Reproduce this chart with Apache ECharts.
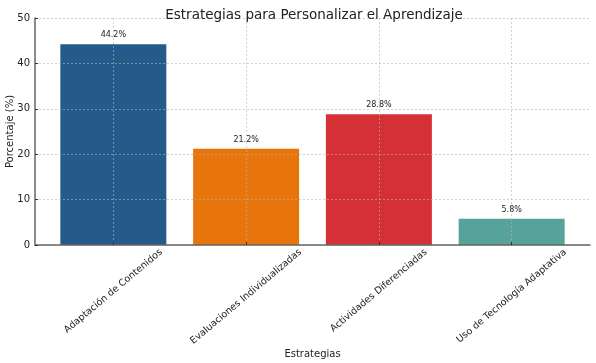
<!DOCTYPE html>
<html>
<head>
<meta charset="utf-8">
<script src="https://cdn.jsdelivr.net/npm/echarts@6/dist/echarts.min.js"></script>
<style>
  html, body { margin: 0; padding: 0; background: #fff; }
  #chart { width: 596px; height: 363px; }
</style>
</head>
<body>
<div id="chart"></div>
<script>
  // categorias y valores
  var categories = ['Adaptación de Contenidos', 'Evaluaciones Individualizadas', 'Actividades Diferenciadas', 'Uso de Tecnología Adaptativa'];
  var values = [44.2, 21.2, 28.8, 5.8];
  var barColors = ['#265a8a', '#e8740c', '#d43035', '#57a299'];
  var yTicks = [0, 10, 20, 30, 40, 50];

  var positions = categories.map(function (c, i) { return i; });

  // etiquetas rotadas centradas en la marca (como matplotlib ha='center')
  var xMin = -0.59, xMax = 3.59;
  var gridLeft = 35, gridRight = 6;
  var labelFont = 9.5, labelRot = 40;
  var pxPerUnit = (596 - gridLeft - gridRight) / (xMax - xMin);
  var ctx = document.createElement('canvas').getContext('2d');
  ctx.font = labelFont + 'px "DejaVu Sans"';
  var labelPos = categories.map(function (c, i) {
    return i + ctx.measureText(c).width * Math.cos(labelRot * Math.PI / 180) / 2 / pxPerUnit;
  });
  function labelIndex(v) {
    var best = 0;
    labelPos.forEach(function (p, i) { if (Math.abs(p - v) < Math.abs(labelPos[best] - v)) best = i; });
    return best;
  }

  var chart = echarts.init(document.getElementById('chart'));

  var gridLine = { show: true, lineStyle: { color: 'rgba(180,180,180,0.6)', type: [2, 2], width: 1 } };

  chart.setOption({
    animation: false,
    title: {
      text: 'Estrategias para Personalizar el Aprendizaje',
      left: 309, top: 3, textAlign: 'center',
      textStyle: { fontFamily: 'DejaVu Sans', fontSize: 13.5, fontWeight: 'normal', color: '#222' }
    },
    grid: { left: gridLeft, right: gridRight, top: 18, bottom: 118, outerBoundsMode: 'none', containLabel: false },
    xAxis: {
      type: 'value',
      min: xMin, max: xMax,
      z: 3,
      name: 'Estrategias',
      nameLocation: 'middle',
      nameGap: 104,
      nameMoveOverlap: false,
      nameTextStyle: { fontFamily: 'DejaVu Sans', fontSize: 10, color: '#222' },
      axisLine: { show: true, onZero: false, lineStyle: { color: '#666', width: 1.5 } },
      axisTick: { show: true, inside: true, length: 3, customValues: positions, lineStyle: { color: '#333' } },
      axisLabel: {
        customValues: labelPos,
        rotate: labelRot,
        margin: 6,
        hideOverlap: false,
        fontFamily: 'DejaVu Sans', fontSize: labelFont, color: '#222',
        formatter: function (v) { return categories[labelIndex(v)]; }
      },
      splitLine: gridLine
    },
    yAxis: {
      type: 'value',
      min: yTicks[0], max: yTicks[yTicks.length - 1], interval: 10,
      z: 3,
      name: 'Porcentaje (%)',
      nameLocation: 'middle',
      nameGap: 20,
      nameMoveOverlap: false,
      nameTextStyle: { fontFamily: 'DejaVu Sans', fontSize: 10, color: '#222' },
      axisLine: { show: true, onZero: false, lineStyle: { color: '#666', width: 1.5 } },
      axisTick: { show: true, inside: true, length: 3, lineStyle: { color: '#333' } },
      axisLabel: { fontFamily: 'DejaVu Sans', fontSize: 10, color: '#222', margin: 5 },
      splitLine: gridLine
    },
    series: [{
      type: 'bar',
      barWidth: 106,
      data: values.map(function (v, i) {
        return { value: [i, v], itemStyle: { color: barColors[i] } };
      }),
      label: {
        show: true, position: 'top', distance: 5,
        fontFamily: 'DejaVu Sans', fontSize: 8, color: '#222',
        formatter: function (p) { return p.value[1].toFixed(1) + '%'; }
      }
    }]
  });
</script>
</body>
</html>
